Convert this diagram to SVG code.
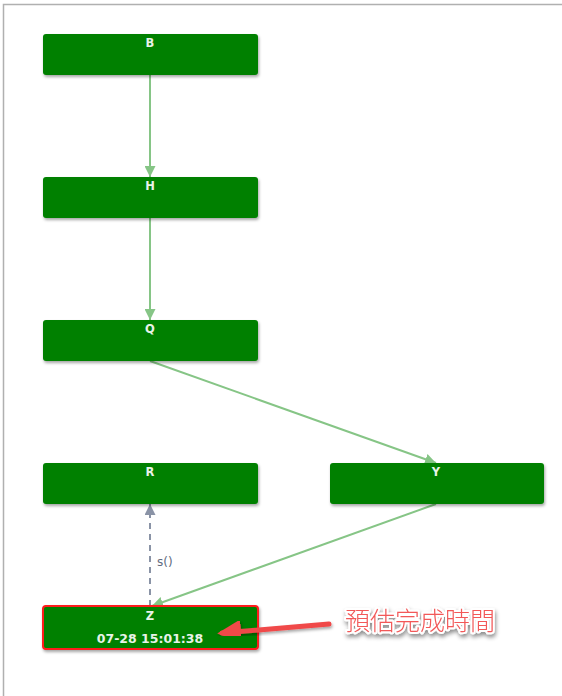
<svg xmlns="http://www.w3.org/2000/svg" width="562" height="696" viewBox="0 0 562 696">
<defs>
<filter id="sh" x="-10%" y="-30%" width="120%" height="160%">
<feDropShadow dx="1" dy="2" stdDeviation="1.5" flood-color="#000" flood-opacity="0.35"/>
</filter>
<filter id="tsh" x="-10%" y="-30%" width="120%" height="180%">
<feDropShadow dx="1" dy="3" stdDeviation="2" flood-color="#000" flood-opacity="0.45"/>
</filter>
<marker id="ag" viewBox="0 0 10 10" refX="10" refY="5" markerWidth="11" markerHeight="11" markerUnits="userSpaceOnUse" orient="auto">
<path d="M0,0 L10,5 L0,10 z" fill="#86c586"/>
</marker>
<marker id="agr" viewBox="0 0 10 10" refX="10" refY="5" markerWidth="11" markerHeight="11" markerUnits="userSpaceOnUse" orient="auto">
<path d="M0,0 L10,5 L0,10 z" fill="#8a93a6"/>
</marker>
<marker id="ar" viewBox="0 0 10 10" refX="8" refY="5" markerWidth="24" markerHeight="24" markerUnits="userSpaceOnUse" orient="auto">
<path d="M0,0 L10,5 L0,10 z" fill="#f04848"/>
</marker>
</defs>
<style>
.box{fill:#008000;filter:url(#sh)}
.lbl{font-family:"DejaVu Sans",Verdana,sans-serif;font-size:11.5px;font-weight:bold;fill:#e8f3e8;text-anchor:middle}
.edge{stroke:#86c586;stroke-width:2;fill:none}
</style>
<rect x="3.5" y="4.5" width="570" height="700" fill="#fff" stroke="#b0b0b0" stroke-width="1.5"/>
<g id="connectors">
<line class="edge" x1="150" y1="75" x2="150" y2="177" marker-end="url(#ag)"/>
<line class="edge" x1="150" y1="218" x2="150" y2="320" marker-end="url(#ag)"/>
<line class="edge" x1="150" y1="361" x2="436" y2="463" marker-end="url(#ag)"/>
<line class="edge" x1="436" y1="504" x2="152" y2="606" marker-end="url(#ag)"/>
<line x1="150" y1="606" x2="150" y2="504" stroke="#8a93a6" stroke-width="2" stroke-dasharray="6,5" marker-end="url(#agr)"/>
<text x="157" y="566" font-family="'DejaVu Sans',Verdana,sans-serif" font-size="12" fill="#5f6b80">s()</text>
</g>
<g id="B"><rect class="box" x="43" y="34" width="215" height="41" rx="3"/><text class="lbl" x="150" y="47">B</text></g>
<g id="H"><rect class="box" x="43" y="177" width="215" height="41" rx="3"/><text class="lbl" x="150" y="190">H</text></g>
<g id="Q"><rect class="box" x="43" y="320" width="215" height="41" rx="3"/><text class="lbl" x="150" y="333">Q</text></g>
<g id="R"><rect class="box" x="43" y="463" width="215" height="41" rx="3"/><text class="lbl" x="150" y="476">R</text></g>
<g id="Y"><rect class="box" x="330" y="463" width="214" height="41" rx="3"/><text class="lbl" x="436" y="476">Y</text></g>
<g id="Z"><rect class="box" x="43" y="606" width="215" height="43" rx="3" stroke="#ff1a1a" stroke-width="2"/><text class="lbl" x="150" y="620">Z</text><text class="lbl" x="150" y="643" style="font-size:12.5px">07-28 15:01:38</text></g>
<g id="annotation">
<line x1="329" y1="624" x2="222" y2="633" stroke="#f04848" stroke-width="5" stroke-linecap="round" marker-end="url(#ar)" filter="url(#sh)"/>
<text x="345" y="630" font-family="'Noto Sans CJK TC','Noto Sans CJK SC',sans-serif" font-size="25" font-weight="300" fill="#f25858" stroke="#fff" stroke-width="4" paint-order="stroke" stroke-linejoin="round" filter="url(#tsh)">預估完成時間</text>
</g>
</svg>
